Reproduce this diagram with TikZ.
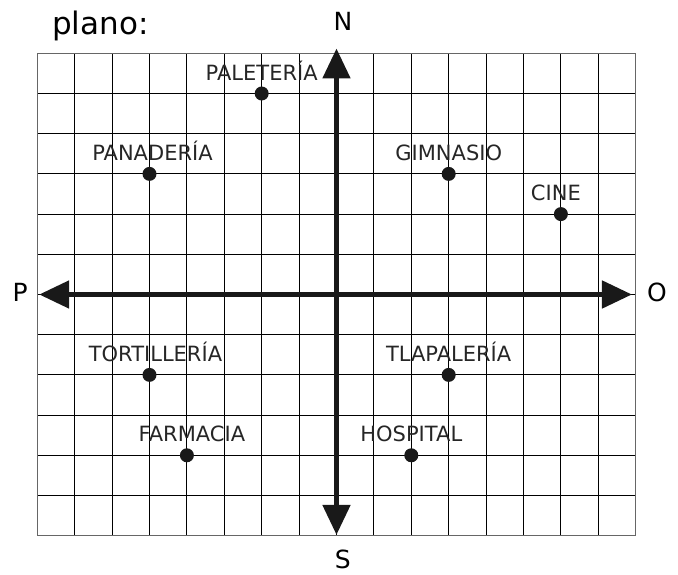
\documentclass[tikz,border=0pt]{standalone}
\usepackage{fontspec}
\setmainfont{DejaVu Sans}
\usetikzlibrary{arrows.meta}

\tikzset{
  dot/.style={circle, fill=black!90, inner sep=0pt, minimum size=14pt},
  sitio/.style={font=\fontsize{21}{21}\selectfont, text=black!85, inner sep=1pt},
  rumbo/.style={font=\fontsize{25}{25}\selectfont, inner sep=0pt},
  eje/.style={line width=5pt, black!90, >={Triangle[length=30pt,width=27pt]}, <->},
}

\begin{document}
\begin{tikzpicture}[x=37.4pt, y=40.2pt]

	\useasboundingbox (-336.5pt,-280.5pt) rectangle (341.5pt,294.5pt);

	% cuadricula
	\draw[line width=1pt, step={(1,1)}] (-8,-6) grid (8,6);
	\draw[line width=1pt, black!60] (-8,-6) rectangle (8,6);

	% ejes
	\coordinate (norte) at (0,6.12);
	\coordinate (sur) at (0,-5.98);
	\coordinate (poniente) at (-7.95,0);
	\coordinate (oriente) at (7.9,0);
	\draw[eje] (sur) -- (norte);
	\draw[eje] (poniente) -- (oriente);

	\node[rumbo] (n) at (0.17,6.8) {N};
	\node[rumbo] (s) at (0.17,-6.6) {S};
	\node[rumbo] (p) at (-8.46,0.06) {P};
	\node[rumbo] (o) at (8.57,0.04) {O};

	\node[anchor=base west, inner sep=0pt, font=\fontsize{31}{31}\selectfont] (titulo) at (-284.5pt,259.5pt) {plano:};

	% lugares
	\node[dot, label={[sitio, label distance=5pt]above:PALETERÍA}] (paleteria) at (-2,5) {};
	\node[dot, label={[sitio, label distance=5pt, xshift=3pt]above:PANADERÍA}] (panaderia) at (-5,3) {};
	\node[dot, label={[sitio, label distance=5pt]above:GIMNASIO}] (gimnasio) at (3,3) {};
	\node[dot, label={[sitio, label distance=5pt, xshift=-5pt]above:CINE}] (cine) at (6,2) {};
	\node[dot, label={[sitio, label distance=5pt, xshift=6pt]above:TORTILLERÍA}] (tortilleria) at (-5,-2) {};
	\node[dot, label={[sitio, label distance=5pt]above:TLAPALERÍA}] (tlapaleria) at (3,-2) {};
	\node[dot, label={[sitio, label distance=5pt, xshift=5pt]above:FARMACIA}] (farmacia) at (-4,-4) {};
	\node[dot, label={[sitio, label distance=5pt]above:HOSPITAL}] (hospital) at (2,-4) {};

\end{tikzpicture}
\end{document}
